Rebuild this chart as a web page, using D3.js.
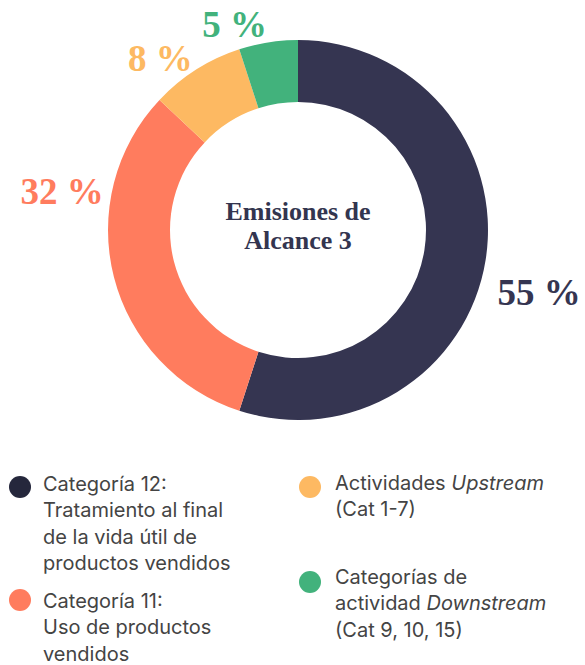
<!DOCTYPE html>
<html><head><meta charset="utf-8">
<script src="https://cdn.jsdelivr.net/npm/d3@7"></script>
<style>body{margin:0;background:#fff}svg{display:block}</style>
</head><body>
<svg id="c" width="585" height="665"></svg>
<script>
const categories = ["Categoría 12", "Categoría 11", "Upstream", "Downstream"];
const values = [55, 32, 8, 5];
const valueLabels = ["55 %", "32 %", "8 %", "5 %"];
const colors = ["#353551", "#ff7c5e", "#fdb962", "#42b27c"];
const legendColors = ["#25273c", "#ff7c5e", "#fdb962", "#42b27c"];
const centerTitle = ["Emisiones de", "Alcance 3"];
// legend lines: arrays of [text, italic]
const legendTexts = [
  [[["Categoría 12:", false]], [["Tratamiento al final", false]], [["de la vida útil de", false]], [["productos vendidos", false]]],
  [[["Categoría 11:", false]], [["Uso de productos", false]], [["vendidos", false]]],
  [[["Actividades ", false], ["Upstream", true]], [["(Cat 1-7)", false]]],
  [[["Categorías de", false]], [["actividad ", false], ["Downstream", true]], [["(Cat 9, 10, 15)", false]]]
];

// layout
const cx = 298, cy = 230, outerR = 190, innerR = 128;
const labelPlace = [[104.4, 249], [279.4, 239], [321.3, 220], [342.9, 216]];
const legendPos = [[20, 487, 43, 491], [20, 600, 43, 608], [310, 487, 335, 490], [310, 582, 335, 584]];
const lineH = 26.4;

const svg = d3.select("#c");
const g = svg.append("g").attr("transform", `translate(${cx},${cy})`);
const pie = d3.pie().sort(null).value(d => d)(values);
const arc = d3.arc().innerRadius(innerR).outerRadius(outerR);
g.selectAll("path").data(pie).join("path").attr("d", arc).attr("fill", (d, i) => colors[i]);

g.selectAll("text.pct").data(pie).join("text").attr("class", "pct")
  .attr("x", (d, i) => labelPlace[i][1] * Math.sin(labelPlace[i][0] * Math.PI / 180))
  .attr("y", (d, i) => -labelPlace[i][1] * Math.cos(labelPlace[i][0] * Math.PI / 180))
  .attr("text-anchor", "middle").attr("dy", "0.35em")
  .attr("font-family", "'Liberation Serif', serif").attr("font-weight", "bold").attr("font-size", 37)
  .attr("fill", (d, i) => colors[i])
  .text((d, i) => valueLabels[i]);

g.selectAll("text.ct").data(centerTitle).join("text").attr("class", "ct")
  .attr("x", 0).attr("y", (d, i) => -10 + i * 29)
  .attr("text-anchor", "middle")
  .attr("font-family", "'Liberation Serif', serif").attr("font-weight", "bold").attr("font-size", 26)
  .attr("fill", "#33354f").text(d => d);

const lg = svg.append("g");
legendTexts.forEach((lines, i) => {
  const p = legendPos[i];
  lg.append("circle").attr("cx", p[0]).attr("cy", p[1]).attr("r", 11).attr("fill", legendColors[i]);
  lines.forEach((parts, j) => {
    const t = lg.append("text").attr("x", p[2]).attr("y", p[3] + j * lineH)
      .attr("font-family", "Inter, sans-serif").attr("font-size", 20).attr("fill", "#444");
    parts.forEach(([s, it]) => t.append("tspan").attr("font-style", it ? "italic" : "normal").text(s));
  });
});
</script>
</body></html>
